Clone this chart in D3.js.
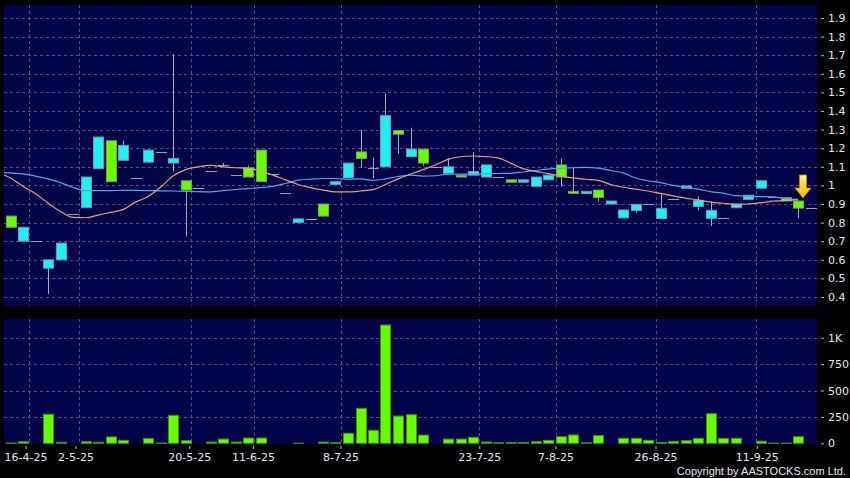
<!DOCTYPE html>
<html>
<head>
<meta charset="utf-8">
<script src="https://cdn.jsdelivr.net/npm/d3@7"></script>
<style>
  body { margin: 0; background: #000; }
  svg { display: block; }
  .axis text { fill: #e8e8e8; font-family: "DejaVu Sans", sans-serif; font-size: 11px; }
  .axis line { stroke: #bbbbbb; }
  .axis path { display: none; }
</style>
</head>
<body>
<div class="chart"></div>
<script>
// daily candles, index 0..64 (last one is today's placeholder)
var opens = [0.775, 0.775, 0.70, 0.60, 0.69, 0.845, 1.045, 1.26, 1.02, 1.215,
  1.04, 1.19, 1.18, 1.145, 0.975, 0.985, 1.075, 1.11, 1.055, 1.045,
  1.02, 1.06, 0.96, 0.82, 0.82, 0.835, 1.02, 1.12, 1.145, 1.095,
  1.375, 1.275, 1.195, 1.12, 1.10, 1.10, 1.045, 1.075, 1.11, 1.045,
  1.017, 1.03, 1.045, 1.055, 1.045, 0.957, 0.968, 0.935, 0.916, 0.868,
  0.898, 0.90, 0.877, 0.925, 0.997, 0.92, 0.866, 0.823, 0.90, 0.947,
  1.025, 0.94, 0.916, 0.878, 0.877];
var highs = [0.835, 0.775, 0.70, 0.60, 0.69, 0.845, 1.045, 1.26, 1.24, 1.24,
  1.04, 1.195, 1.18, 1.705, 1.025, 0.985, 1.075, 1.12, 1.055, 1.105,
  1.19, 1.06, 0.96, 0.82, 0.82, 0.90, 1.02, 1.12, 1.30, 1.15,
  1.495, 1.295, 1.31, 1.195, 1.10, 1.145, 1.055, 1.18, 1.11, 1.045,
  1.03, 1.03, 1.045, 1.055, 1.145, 1.10, 0.968, 0.975, 0.916, 0.868,
  0.898, 0.90, 0.957, 0.925, 0.997, 0.94, 0.913, 0.823, 0.90, 0.947,
  1.025, 0.94, 0.934, 0.916, 0.877];
var lows = [0.775, 0.70, 0.70, 0.415, 0.60, 0.845, 0.88, 1.09, 1.02, 1.135,
  1.04, 1.125, 1.18, 1.075, 0.725, 0.985, 1.075, 1.10, 1.055, 1.045,
  1.02, 1.06, 0.96, 0.80, 0.82, 0.835, 1.005, 1.04, 1.095, 1.04,
  1.10, 1.17, 1.155, 1.105, 1.10, 1.065, 1.045, 1.055, 1.045, 1.045,
  1.017, 1.017, 0.995, 1.03, 0.995, 0.957, 0.957, 0.913, 0.90, 0.825,
  0.853, 0.90, 0.822, 0.925, 0.985, 0.865, 0.782, 0.823, 0.88, 0.925,
  0.985, 0.94, 0.916, 0.823, 0.877];
var closes = [0.835, 0.70, 0.70, 0.555, 0.60, 0.845, 0.88, 1.09, 1.24, 1.135,
  1.04, 1.125, 1.18, 1.12, 1.025, 0.985, 1.075, 1.11, 1.055, 1.095,
  1.19, 1.06, 0.96, 0.80, 0.82, 0.90, 1.005, 1.04, 1.18, 1.095,
  1.10, 1.295, 1.155, 1.195, 1.10, 1.065, 1.055, 1.055, 1.045, 1.045,
  1.03, 1.017, 0.995, 1.03, 1.11, 0.968, 0.957, 0.975, 0.90, 0.825,
  0.865, 0.90, 0.822, 0.925, 0.985, 0.887, 0.823, 0.823, 0.88, 0.925,
  0.985, 0.94, 0.934, 0.916, 0.877];
var volumes = [3, 15, 0, 275, 10, 0, 15, 10, 60, 28,
  0, 45, 3, 265, 25, 0, 12, 40, 12, 50,
  50, 0, 0, 2, 0, 12, 6, 95, 331, 123,
  1120, 258, 271, 78, 0, 40, 40, 57, 12, 6,
  8, 8, 15, 28, 63, 79, 5, 73, 0, 47,
  47, 28, 8, 18, 25, 47, 280, 45, 47, 0,
  20, 2, 2, 63, 0];

// moving averages, first value belongs to the day before candle 0
var maLong = [1.07, 1.067, 1.062, 1.05, 1.035, 1.015, 0.99, 0.972, 0.972, 0.972,
  0.973, 0.973, 0.972, 0.971, 0.97, 0.968, 0.966, 0.965, 0.972, 0.978,
  0.983, 0.988, 0.995, 1.01, 1.028, 1.034, 1.037, 1.037, 1.033, 1.035,
  1.027, 1.035, 1.048, 1.055, 1.05, 1.052, 1.06, 1.061, 1.061, 1.062,
  1.064, 1.065, 1.072, 1.08, 1.088, 1.092, 1.095, 1.097, 1.093, 1.08,
  1.067, 1.04, 1.025, 1.015, 1.0, 0.99, 0.98, 0.967, 0.958, 0.945,
  0.942, 0.94, 0.938, 0.928, 0.925];
var maShort = [1.07, 1.04, 0.995, 0.955, 0.905, 0.86, 0.828, 0.826, 0.84, 0.855,
  0.87, 0.91, 0.94, 0.99, 1.05, 1.085, 1.1, 1.108, 1.1, 1.095,
  1.092, 1.077, 1.055, 1.03, 1.005, 0.988, 0.975, 0.965, 0.965, 0.97,
  0.977, 1.005, 1.035, 1.06, 1.085, 1.11, 1.14, 1.154, 1.158, 1.155,
  1.148, 1.12, 1.09, 1.075, 1.063, 1.05, 1.04, 1.033, 1.027, 1.005,
  0.99, 0.98, 0.97, 0.957, 0.944, 0.932, 0.922, 0.91, 0.904, 0.898,
  0.9, 0.907, 0.915, 0.92, 0.922];

var priceTicks = [0.4, 0.5, 0.6, 0.7, 0.8, 0.9, 1, 1.1, 1.2, 1.3, 1.4, 1.5, 1.6, 1.7, 1.8, 1.9];
var volTicks = [0, 250, 500, 750, 1000];
var volTickLabels = ["0", "250", "500", "750", "1K"];
var dateLabels = ["16-4-25", "2-5-25", "20-5-25", "11-6-25", "8-7-25", "23-7-25", "7-8-25", "26-8-25", "11-9-25"];
var dateTickIdx = [1.2, 5.2, 14.3, 19.4, 26.4, 37.5, 43.6, 51.6, 59.7];
var dateGridIdx = [1.5, 5.5, 14.45, 19.5, 26.45, 37.5, 43.6, 51.6, 59.6];

var W = 850, H = 478;
var left = 4, right = 817;
var top1 = 5, bot1 = 306, top2 = 319, bot2 = 444;

var svg = d3.select(".chart").append("svg")
  .attr("width", W)
  .attr("height", H);

svg.append("rect").attr("width", W).attr("height", H).attr("fill", "#000");

var x = d3.scaleLinear().domain([-0.5, 64.5]).range([4.25, 816.75]);
var y = d3.scaleLinear().domain([0.4, 1.9]).range([297, 18]);
var yv = d3.scaleLinear().domain([0, 1000]).range([443.3, 337.7]);

var defs = svg.append("defs");
defs.append("clipPath").attr("id", "clip1")
  .append("rect").attr("x", left).attr("y", top1).attr("width", right - left).attr("height", bot1 - top1);
var grad = defs.append("linearGradient").attr("id", "arrowGrad")
  .attr("x1", 0).attr("y1", 0).attr("x2", 0).attr("y2", 1);
grad.append("stop").attr("offset", "0%").attr("stop-color", "#fff27a");
grad.append("stop").attr("offset", "100%").attr("stop-color", "#f2b400");

// panel backgrounds
var navy = "#03034a";
svg.append("rect").attr("x", left).attr("y", top1).attr("width", right - left).attr("height", bot1 - top1).attr("fill", navy);
svg.append("rect").attr("x", left).attr("y", top2).attr("width", right - left).attr("height", bot2 - top2).attr("fill", navy);

var gridColor = "#4f4f86";
// horizontal grid
svg.append("g").selectAll("line")
  .data(priceTicks)
  .enter().append("line")
  .attr("x1", left).attr("x2", right)
  .attr("y1", function(d) { return Math.round(y(d)) + 0.5; })
  .attr("y2", function(d) { return Math.round(y(d)) + 0.5; })
  .attr("stroke", gridColor).attr("stroke-dasharray", "3,3");
svg.append("g").selectAll("line")
  .data(volTicks.slice(1))
  .enter().append("line")
  .attr("x1", left).attr("x2", right)
  .attr("y1", function(d) { return Math.round(yv(d)) + 0.5; })
  .attr("y2", function(d) { return Math.round(yv(d)) + 0.5; })
  .attr("stroke", gridColor).attr("stroke-dasharray", "3,3");
// vertical grid in both panels
[[top1, bot1], [top2, bot2]].forEach(function(p) {
  svg.append("g").selectAll("line")
    .data(dateGridIdx)
    .enter().append("line")
    .attr("x1", function(d) { return Math.round(x(d)) + 0.5; })
    .attr("x2", function(d) { return Math.round(x(d)) + 0.5; })
    .attr("y1", p[0]).attr("y2", p[1])
    .attr("stroke", gridColor).attr("stroke-dasharray", "3,3");
});

var idx = d3.range(opens.length);
var cyan = "#1ff0f5", lime = "#66ff00";

function candleColor(i) {
  if (closes[i] > opens[i]) return lime;
  if (closes[i] < opens[i]) return cyan;
  return null;
}

var candles = svg.append("g").attr("clip-path", "url(#clip1)");

// wicks
candles.selectAll(".wick")
  .data(idx.filter(function(i) { return highs[i] > lows[i]; }))
  .enter().append("line")
  .attr("class", "wick")
  .attr("x1", function(i) { return Math.round(x(i)) + 0.5; })
  .attr("x2", function(i) { return Math.round(x(i)) + 0.5; })
  .attr("y1", function(i) { return y(highs[i]); })
  .attr("y2", function(i) { return y(lows[i]); })
  .attr("stroke", "#a8a8b4").attr("stroke-width", 1);

// flat days drawn as a dash
candles.selectAll(".dash")
  .data(idx.filter(function(i) { return candleColor(i) === null; }))
  .enter().append("line")
  .attr("class", "dash")
  .attr("x1", function(i) { return Math.round(x(i)) - 5; })
  .attr("x2", function(i) { return Math.round(x(i)) + 6; })
  .attr("y1", function(i) { return Math.round(y(closes[i])) + 0.5; })
  .attr("y2", function(i) { return Math.round(y(closes[i])) + 0.5; })
  .attr("stroke", "#a0a0aa").attr("stroke-width", 1);

// bodies
candles.selectAll(".body")
  .data(idx.filter(function(i) { return candleColor(i) !== null; }))
  .enter().append("rect")
  .attr("class", "body")
  .attr("x", function(i) { return Math.round(x(i)) - 4.5; })
  .attr("width", 10)
  .attr("y", function(i) { return y(Math.max(opens[i], closes[i])); })
  .attr("height", function(i) { return Math.max(1.5, Math.abs(y(opens[i]) - y(closes[i]))); })
  .attr("fill", function(i) { return candleColor(i); })
  .attr("stroke", function(i) { return candleColor(i) === lime ? "#7f9a5a" : "#6f97a6"; })
  .attr("stroke-width", 1);

// moving averages
var maLine = d3.line()
  .x(function(d, k) { return x(k - 1); })
  .y(function(d) { return y(d); })
  .curve(d3.curveMonotoneX);
candles.append("path").datum(maLong)
  .attr("d", maLine).attr("fill", "none")
  .attr("stroke", "#4aa6ea").attr("stroke-width", 1.2);
candles.append("path").datum(maShort)
  .attr("d", maLine).attr("fill", "none")
  .attr("stroke", "#e4a074").attr("stroke-width", 1.2);

// arrow on the latest candle
var last = opens.length - 2;
var ax = x(last) + 5, ay = y(highs[last]) - 3;
svg.append("path")
  .attr("d", "M" + (ax - 3.5) + "," + (ay - 23) + "H" + (ax + 3.5) + "V" + (ay - 10) +
    "H" + (ax + 8) + "L" + ax + "," + ay + "L" + (ax - 8) + "," + (ay - 10) + "H" + (ax - 3.5) + "Z")
  .attr("fill", "url(#arrowGrad)")
  .attr("stroke", "#c98a00").attr("stroke-width", 0.8);

// volume bars
svg.append("g").selectAll(".vol")
  .data(idx.filter(function(i) { return volumes[i] > 0; }))
  .enter().append("rect")
  .attr("class", "vol")
  .attr("x", function(i) { return Math.round(x(i)) - 4.5; })
  .attr("width", 10)
  .attr("y", function(i) { return yv(volumes[i]); })
  .attr("height", function(i) { return yv(0) - yv(volumes[i]); })
  .attr("fill", lime)
  .attr("stroke", "#3f8f0c").attr("stroke-width", 1);

// axes
svg.append("g")
  .attr("class", "axis")
  .attr("transform", "translate(821,0)")
  .call(d3.axisRight(y).tickValues(priceTicks).tickSize(3).tickPadding(4)
    .tickFormat(function(d) { return d3.format("")(d); }));

svg.append("g")
  .attr("class", "axis")
  .attr("transform", "translate(821,0)")
  .call(d3.axisRight(yv).tickValues(volTicks).tickSize(3).tickPadding(4)
    .tickFormat(function(d, k) { return volTickLabels[k]; }));

svg.append("g")
  .attr("class", "axis")
  .attr("transform", "translate(0,446)")
  .call(d3.axisBottom(x).tickValues(dateTickIdx).tickSize(3).tickPadding(4)
    .tickFormat(function(d, k) { return dateLabels[k]; }));

svg.append("text")
  .attr("x", 846).attr("y", 475)
  .attr("text-anchor", "end")
  .attr("fill", "#e8e8e8")
  .style("font-family", "Liberation Sans, sans-serif")
  .style("font-size", "11px")
  .text("Copyright by AASTOCKS.com Ltd.");
</script>
</body>
</html>
